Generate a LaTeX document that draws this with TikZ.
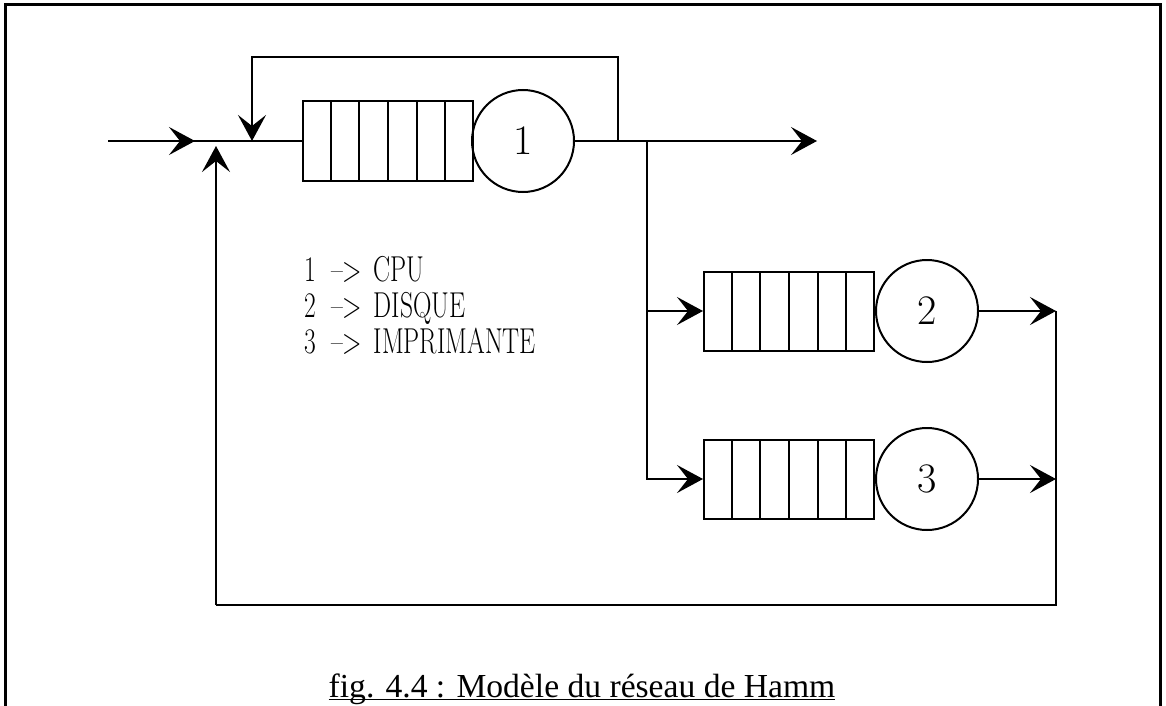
\documentclass[tikz,border=0pt]{standalone}
\usepackage{fontspec}
\newfontfamily\capfont{Liberation Serif}
\usetikzlibrary{arrows.meta,calc}

\begin{document}
\begin{tikzpicture}[x=0.5pt,y=-0.5pt,line width=1pt]
      \tikzstyle{every node}+=[inner sep=0pt]
      \tikzstyle{file}=[draw, minimum width=85pt, minimum height=39.5pt]
      \tikzstyle{serveur}=[draw, circle, minimum size=51pt, font=\fontsize{21}{21}\selectfont]
      \tikzstyle{legende}=[anchor=base west, font=\fontsize{18}{18}\selectfont]
      \tikzstyle{fl}=[-{Stealth[length=13pt,width=14pt,inset=5.5pt]}]
      \useasboundingbox (0,0) rectangle (1166,706);
      \draw [line width=1.5pt] (5,706) |- (1160,5) -- (1160,706);
      % files et serveurs
      \node [file] (f1) at (388,141) {};
      \node [serveur] (s1) at (523,141) {1};
      \node [file] (f2) at (789,311) {};
      \node [serveur] (s2) at (927,311) {2};
      \node [file] (f3) at (789,479) {};
      \node [serveur] (s3) at (927,479) {3};
      \foreach \f in {f1,f2,f3}
        \foreach \i in {1,...,5}
          \draw ($(\f.south west)!\i/6!(\f.south east)$) -- ($(\f.north west)!\i/6!(\f.north east)$);
      % points de passage
      \coordinate (entree) at (108,141);
      \coordinate (a1) at (195,141);
      \coordinate (j1) at (216,146);
      \coordinate (t1) at (252,141);
      \coordinate (b1) at (618,141);
      \coordinate (b2) at (647,141);
      \coordinate (sortie) at (817,141);
      \coordinate (d2) at (1056,311);
      \coordinate (d3) at (1056,479);
      \coordinate (retour) at (216,605);
      % liaisons
      \draw (entree) -- (f1.west);
      \draw [fl] (entree) -- (a1);
      \draw [fl] (b1) -- ++(0,-84) -| (t1);
      \draw [fl] (s1.east) -- (sortie);
      \draw [fl] (b2) |- (f2.west);
      \draw [fl] (b2) |- (f3.west);
      \draw [fl] (s2.east) -- (d2);
      \draw [fl] (s3.east) -- (d3);
      \draw (d2) |- (retour);
      \draw [fl] (retour) -- (j1);
      % legende
      \node [legende] (l1) at (303,281) {\scalebox{0.71}[1]{1\hspace{0.6em}\textendash>\hspace{0.45em}CPU}};
      \node [legende] (l2) at (303,317) {\scalebox{0.71}[1]{2\hspace{0.6em}\textendash>\hspace{0.45em}DISQUE}};
      \node [legende] (l3) at (303,353) {\scalebox{0.71}[1]{3\hspace{0.6em}\textendash>\hspace{0.45em}IMPRIMANTE}};
      \node [anchor=base, font=\capfont\fontsize{16.8}{17}\selectfont] (titre) at (582,697) {\underline{\smash{fig. 4.4 : Modèle du réseau de Hamm}}};
\end{tikzpicture}
\end{document}
